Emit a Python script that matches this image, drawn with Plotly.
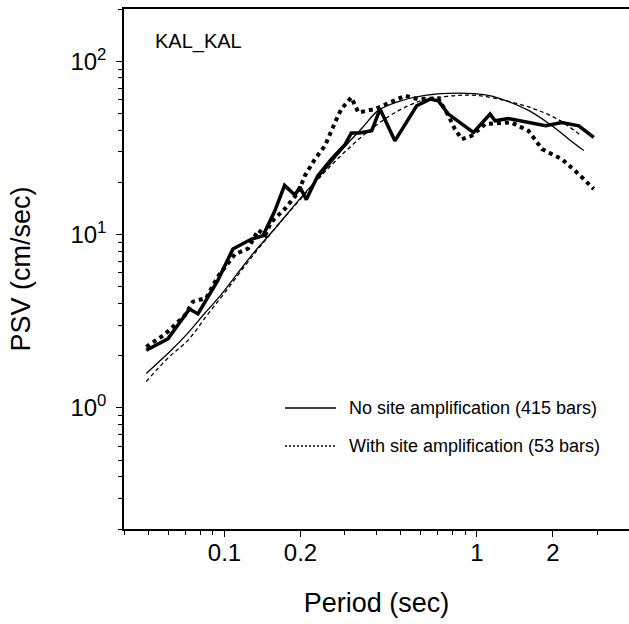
import numpy as np
import plotly.graph_objects as go

# ---------------- data ----------------
# thin solid: No site amplification (415 bars)
t_nosite = [0.049, 0.0615, 0.0716, 0.0834, 0.097, 0.113, 0.132, 0.152, 0.2, 0.25, 0.296, 0.35,
            0.407, 0.488, 0.622, 0.845, 1.11, 1.22, 1.6, 1.98, 2.31, 2.65]
v_nosite = [1.58, 2.15, 2.7, 3.5, 4.5, 6.0, 8.0, 10.1, 16.2, 23.5, 31.5, 41.0,
            52.0, 58.5, 63.5, 65.4, 63.5, 61.2, 52.0, 42.4, 35.5, 30.5]

# thin dashed: With site amplification (53 bars)
t_site = [0.049, 0.06, 0.0716, 0.085, 0.1, 0.13, 0.16, 0.2, 0.25, 0.3, 0.36, 0.447, 0.53,
          0.622, 0.75, 0.87, 1.0, 1.22, 1.5, 1.75, 2.1, 2.6]
v_site = [1.42, 1.95, 2.45, 3.4, 4.6, 7.6, 11.0, 16.0, 23.0, 30.0, 38.0, 48.0, 55.0,
          60.0, 62.5, 63.7, 63.5, 60.4, 56.0, 52.0, 46.0, 37.0]

# thick solid
t_obs1 = [0.049, 0.0597, 0.0727, 0.0785, 0.094, 0.108, 0.128, 0.142, 0.158, 0.173, 0.19,
          0.199, 0.211, 0.234, 0.265, 0.30, 0.318, 0.342, 0.383, 0.413, 0.473, 0.577,
          0.652, 0.703, 0.77, 0.968, 1.127, 1.18, 1.33, 1.6, 1.87, 2.17, 2.53, 2.9]
v_obs1 = [2.15, 2.5, 3.72, 3.48, 5.42, 8.25, 9.42, 9.84, 13.6, 19.2, 16.9,
          18.8, 15.9, 21.8, 27.2, 33.0, 38.5, 38.5, 39.7, 52.9, 34.7, 55.3,
          60.4, 59.0, 49.5, 38.8, 49.5, 45.3, 46.7, 44.3, 42.4, 44.3, 42.4, 36.3]

# thick dotted
t_obs2 = [0.049, 0.058, 0.0695, 0.075, 0.0847, 0.094, 0.11, 0.124, 0.136, 0.145, 0.153,
          0.173, 0.196, 0.208, 0.228, 0.25, 0.274, 0.29, 0.318, 0.339, 0.394, 0.473,
          0.519, 0.586, 0.703, 0.771, 0.818, 0.871, 0.953, 1.078, 1.37, 1.6, 1.81,
          2.17, 2.53, 2.9]
v_obs2 = [2.25, 2.65, 3.4, 4.1, 4.3, 5.7, 7.7, 8.3, 10.6, 9.9, 11.8,
          14.0, 17.5, 21.8, 27.2, 32.5, 44.3, 52.9, 61.8, 50.6, 52.9, 59.0,
          63.1, 60.4, 61.0, 48.4, 40.5, 35.5, 37.1, 43.4, 44.3, 39.6, 31.1,
          27.2, 22.3, 18.3]

x_ticks = [0.1, 0.2, 1, 2]
x_ticktext = ["0.1", "0.2", "1", "2"]
x_minor = [0.04, 0.05, 0.06, 0.07, 0.08, 0.09, 0.3, 0.4, 0.5, 0.6, 0.7, 0.8, 0.9, 3]
y_ticks = [1, 10, 100]
y_ticktext = ["10<sup>0</sup>", "10<sup>1</sup>", "10<sup>2</sup>"]
y_minor = [0.2, 0.3, 0.4, 0.5, 0.6, 0.7, 0.8, 0.9, 2, 3, 4, 5, 6, 7, 8, 9,
           20, 30, 40, 50, 60, 70, 80, 90, 200]

station = "KAL_KAL"
legend_labels = ["No site amplification (415 bars)", "With site amplification (53 bars)"]

FONT = "Liberation Sans, Arial, Helvetica, sans-serif"

fig = go.Figure()
fig.add_trace(go.Scatter(x=t_nosite, y=v_nosite, mode="lines", line_shape="spline",
                         line=dict(color="black", width=1.3), showlegend=False))
fig.add_trace(go.Scatter(x=t_site, y=v_site, mode="lines", line_shape="spline",
                         line=dict(color="black", width=1.3, dash="4px,3px"), showlegend=False))
fig.add_trace(go.Scatter(x=t_obs1, y=v_obs1, mode="lines",
                         line=dict(color="black", width=3.5), showlegend=False))
fig.add_trace(go.Scatter(x=t_obs2, y=v_obs2, mode="lines",
                         line=dict(color="black", width=4, dash="4px,4px"), showlegend=False))

L, R, T, B = 124, 0, 9, 95
W, H = 629, 624
pw, ph = W - L - R, H - T - B

def px(xp):
    return (xp - L) / pw

def py(yp):
    return (H - B - yp) / ph

# station label
fig.add_annotation(x=px(153), y=py(41), xref="paper", yref="paper", text=station,
                   showarrow=False, xanchor="left", yanchor="middle",
                   font=dict(family=FONT, size=20, color="black"))

# legend
leg_y = [408, 446]
dashes = ["solid", "2px,2px"]
for yy, lab, d in zip(leg_y, legend_labels, dashes):
    fig.add_shape(type="line", xref="paper", yref="paper", x0=px(285), x1=px(336),
                  y0=py(yy), y1=py(yy), line=dict(color="black", width=1.3, dash=d))
    fig.add_annotation(x=px(347), y=py(yy), xref="paper", yref="paper", text=lab,
                       showarrow=False, xanchor="left", yanchor="middle",
                       font=dict(family=FONT, size=18, color="black"))

fig.update_layout(
    width=W, height=H,
    margin=dict(l=L, r=R, t=T, b=B),
    paper_bgcolor="white", plot_bgcolor="white",
    font=dict(family=FONT, color="black"),
    showlegend=False,
)
fig.update_xaxes(
    type="log", range=[np.log10(0.04), np.log10(4)],
    showline=True, linecolor="black", linewidth=1.5, mirror=True,
    showgrid=False, zeroline=False,
    ticks="outside", ticklen=6, tickwidth=1.3, tickcolor="black",
    tickvals=x_ticks, ticktext=x_ticktext, tickfont=dict(size=24, family=FONT),
    ticklabelstandoff=-5,
    minor=dict(tickvals=x_minor, ticks="outside", ticklen=4, tickwidth=1, tickcolor="black", showgrid=False),
    title=dict(text="Period (sec)", font=dict(size=27, family=FONT), standoff=29),
)
fig.update_yaxes(
    type="log", range=[np.log10(0.2), np.log10(200)],
    showline=True, linecolor="black", linewidth=1.5, mirror=False,
    showgrid=False, zeroline=False,
    ticks="outside", ticklen=6, tickwidth=1.3, tickcolor="black",
    tickvals=y_ticks, ticktext=y_ticktext, tickfont=dict(size=24, family=FONT),
    ticklabelstandoff=5,
    minor=dict(tickvals=y_minor, ticks="outside", ticklen=4, tickwidth=1, tickcolor="black", showgrid=False),
    title=dict(text="PSV (cm/sec)", font=dict(size=27, family=FONT), standoff=32),
)

fig.write_html("out.html")
